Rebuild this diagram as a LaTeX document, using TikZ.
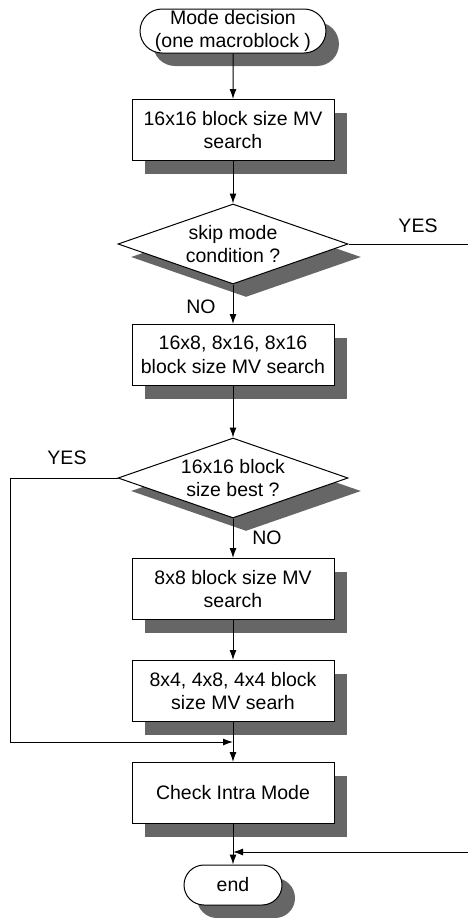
\documentclass[tikz,border=0pt]{standalone}
\usepackage{fontspec}
\setmainfont{Liberation Sans}
\usetikzlibrary{shapes.geometric,shapes.misc,shadows,arrows.meta}
\begin{document}
\begin{tikzpicture}[x=1pt,y=-1pt,
  font=\fontsize{19.5}{23.5}\selectfont,
  shad/.style={drop shadow={shadow xshift=13pt,shadow yshift=-13pt,fill=black!60,opacity=1}},
  procbox/.style={draw,line width=1pt,fill=white,minimum width=202pt,minimum height=61pt,align=center,inner sep=0pt,shad},
  termbox/.style={draw,line width=1pt,fill=white,rounded rectangle,align=center,inner sep=0pt,shad},
  decbox/.style={draw,line width=1pt,fill=white,diamond,aspect=2.875,minimum width=230pt,minimum height=80pt,inner sep=0pt,align=center,shad},
  conn/.style={line width=1pt},
  arr/.style={conn,-{Latex[length=10pt,width=7pt]}},
  lbl/.style={inner sep=0pt}
]
\useasboundingbox (0,0) rectangle (468,918);

\node[termbox,minimum width=178pt,minimum height=44pt] (start) at (233,31) {Mode decision\\(one macroblock )};
\node[procbox] (b1) at (233,130) {16x16 block size MV\\search};
\node[decbox] (d1) at (233,244) {skip mode\\condition ?};
\node[procbox] (b2) at (233,355) {16x8, 8x16, 8x16\\block size MV search};
\node[decbox] (d2) at (233,478) {16x16 block\\size best ?};
\node[procbox] (b3) at (233,589) {8x8 block size MV\\search};
\node[procbox] (b4) at (233,691) {8x4, 4x8, 4x4 block\\size MV searh};
\node[procbox] (b5) at (233,793) {Check Intra Mode};
\node[termbox,minimum width=98pt,minimum height=40pt] (end) at (233,885) {end};

\coordinate (j1) at (233,742);
\coordinate (j2) at (233,852);
\coordinate (yesR) at (468,244);
\coordinate (yesL) at (10,478);
\coordinate (cornerL) at (10,742);
\coordinate (rightIn) at (468,852);

\draw[arr] (start) -- (b1);
\draw[arr] (b1) -- (d1);
\draw[arr] (d1) -- (b2);
\draw[arr] (b2) -- (d2);
\draw[arr] (d2) -- (b3);
\draw[arr] (b3) -- (b4);
\draw[arr] (b4) -- (b5);
\draw[arr] (b5) -- (end);
\draw[conn] (d1.east) -- (yesR);
\draw[arr] (d2.west) -- (yesL) -- (cornerL) -- (j1);
\draw[arr] (rightIn) -- (j2);

\node[lbl] (yes1) at (418,226) {YES};
\node[lbl] (no1) at (201,307) {NO};
\node[lbl] (yes2) at (67,458) {YES};
\node[lbl] (no2) at (267,538) {NO};
\end{tikzpicture}
\end{document}
